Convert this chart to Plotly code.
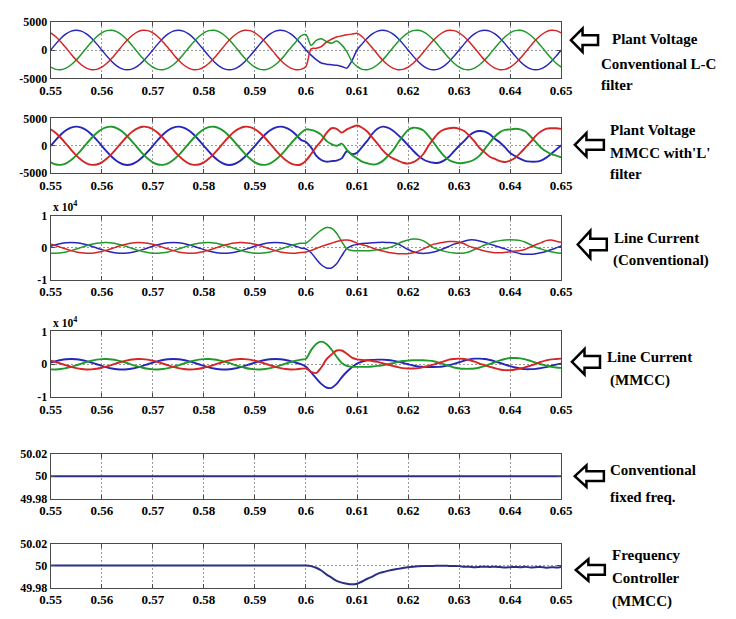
import plotly.graph_objects as go

# ---------------- data ----------------
TIME = [0.550, 0.551, 0.552, 0.553, 0.554, 0.555, 0.556, 0.557, 0.558, 0.559,
        0.560, 0.561, 0.562, 0.563, 0.564, 0.565, 0.566, 0.567, 0.568, 0.569,
        0.570, 0.571, 0.572, 0.573, 0.574, 0.575, 0.576, 0.577, 0.578, 0.579,
        0.580, 0.581, 0.582, 0.583, 0.584, 0.585, 0.586, 0.587, 0.588, 0.589,
        0.590, 0.591, 0.592, 0.593, 0.594, 0.595, 0.596, 0.597, 0.598, 0.599,
        0.600, 0.601, 0.602, 0.603, 0.604, 0.605, 0.606, 0.607, 0.608, 0.609,
        0.610, 0.611, 0.612, 0.613, 0.614, 0.615, 0.616, 0.617, 0.618, 0.619,
        0.620, 0.621, 0.622, 0.623, 0.624, 0.625, 0.626, 0.627, 0.628, 0.629,
        0.630, 0.631, 0.632, 0.633, 0.634, 0.635, 0.636, 0.637, 0.638, 0.639,
        0.640, 0.641, 0.642, 0.643, 0.644, 0.645, 0.646, 0.647, 0.648, 0.649,
        0.650]

# Plant voltage, conventional L-C filter
VOLT_CONV_B = [0, 1080, 2060, 2830, 3330, 3500, 3330, 2830, 2060, 1080,
               0, -1080, -2060, -2830, -3330, -3500, -3330, -2830, -2060, -1080,
               0, 1080, 2060, 2830, 3330, 3500, 3330, 2830, 2060, 1080,
               0, -1080, -2060, -2830, -3330, -3500, -3330, -2830, -2060, -1080,
               0, 1080, 2060, 2830, 3330, 3500, 3330, 2830, 2060, 1080,
               0, -900, -1700, -2300, -2500, -2600, -2700, -2900, -3200, -1900,
               0, 1080, 2060, 2830, 3330, 3500, 3330, 2830, 2060, 1080,
               0, -1080, -2060, -2830, -3330, -3500, -3330, -2830, -2060, -1080,
               0, 1080, 2060, 2830, 3330, 3500, 3330, 2830, 2060, 1080,
               0, -1080, -2060, -2830, -3330, -3500, -3330, -2830, -2060, -1080,
               0]
VOLT_CONV_G = [-3030, -3420, -3480, -3200, -2600, -1750, -730, 370, 1420, 2340,
               3030, 3420, 3480, 3200, 2600, 1750, 730, -370, -1420, -2340,
               -3030, -3420, -3480, -3200, -2600, -1750, -730, 370, 1420, 2340,
               3030, 3420, 3480, 3200, 2600, 1750, 730, -370, -1420, -2340,
               -3030, -3420, -3480, -3200, -2600, -1750, -730, 370, 1420, 2500,
               2700, 800, 1700, 2000, 1500, 1200, 1600, 900, -300, -2000,
               -2900, -3420, -3480, -3200, -2600, -1750, -730, 370, 1420, 2340,
               3030, 3420, 3480, 3200, 2600, 1750, 730, -370, -1420, -2340,
               -3030, -3420, -3480, -3200, -2600, -1750, -730, 370, 1420, 2340,
               3030, 3420, 3480, 3200, 2600, 1750, 730, -370, -1420, -2340,
               -3030]
VOLT_CONV_R = [3030, 2340, 1420, 370, -730, -1750, -2600, -3200, -3480, -3420,
               -3030, -2340, -1420, -370, 730, 1750, 2600, 3200, 3480, 3420,
               3030, 2340, 1420, 370, -730, -1750, -2600, -3200, -3480, -3420,
               -3030, -2340, -1420, -370, 730, 1750, 2600, 3200, 3480, 3420,
               3030, 2340, 1420, 370, -730, -1750, -2600, -3200, -3480, -3420,
               -2900, 200, 300, 600, 1400, 1900, 2300, 2500, 2700, 2800,
               2950, 2340, 1420, 370, -730, -1750, -2600, -3200, -3480, -3420,
               -3030, -2340, -1420, -370, 730, 1750, 2600, 3200, 3480, 3420,
               3030, 2340, 1420, 370, -730, -1750, -2600, -3200, -3480, -3420,
               -3030, -2340, -1420, -370, 730, 1750, 2600, 3200, 3480, 3420,
               3030]

# Plant voltage, MMCC with 'L' filter
VOLT_MMCC_B = [0, 1080, 2060, 2830, 3330, 3500, 3330, 2830, 2060, 1080,
               0, -1080, -2060, -2830, -3330, -3500, -3330, -2830, -2060, -1080,
               0, 1080, 2060, 2830, 3330, 3500, 3330, 2830, 2060, 1080,
               0, -1080, -2060, -2830, -3330, -3500, -3330, -2830, -2060, -1080,
               0, 1080, 2060, 2830, 3330, 3500, 3330, 2830, 2060, 1080,
               700, -300, -1800, -2600, -2900, -2800, -2700, -2300, -1000, -1500,
               -1300, -200, 900, 2200, 3100, 3500, 3300, 2800, 2000, 1100,
               100, -900, -1800, -2500, -2900, -3100, -3100, -2700, -2000, -1000,
               0, 900, 1900, 2500, 2700, 2600, 2100, 1300, 600, -300,
               -1300, -1900, -2400, -2800, -2900, -2900, -2700, -2200, -1500, -700,
               100]
VOLT_MMCC_G = [-3030, -3420, -3480, -3200, -2600, -1750, -730, 370, 1420, 2340,
               3030, 3420, 3480, 3200, 2600, 1750, 730, -370, -1420, -2340,
               -3030, -3420, -3480, -3200, -2600, -1750, -730, 370, 1420, 2340,
               3030, 3420, 3480, 3200, 2600, 1750, 730, -370, -1420, -2340,
               -3030, -3420, -3480, -3200, -2600, -1750, -730, 370, 1420, 2340,
               3000, 2900, 2600, 2000, 900, 300, 0, 400, -700, -1700,
               -2300, -2900, -3200, -3400, -3300, -2800, -1900, -900, 500, 1800,
               2900, 3300, 3200, 2800, 1800, 600, -700, -1800, -2600, -3000,
               -3200, -3100, -2900, -2500, -1800, -600, 600, 1700, 2500, 2900,
               3000, 3100, 3000, 2600, 1700, 700, -300, -1000, -1500, -1800,
               -2100]
VOLT_MMCC_R = [3030, 2340, 1420, 370, -730, -1750, -2600, -3200, -3480, -3420,
               -3030, -2340, -1420, -370, 730, 1750, 2600, 3200, 3480, 3420,
               3030, 2340, 1420, 370, -730, -1750, -2600, -3200, -3480, -3420,
               -3030, -2340, -1420, -370, 730, 1750, 2600, 3200, 3480, 3420,
               3030, 2340, 1420, 370, -730, -1750, -2600, -3200, -3480, -3420,
               -2700, -1500, -200, 900, 2300, 3200, 3100, 2400, 3000, 3400,
               3700, 3300, 2600, 1500, 400, -800, -1700, -2300, -2700, -3100,
               -3250, -3000, -2400, -1500, 0, 1300, 2400, 2950, 3200, 3300,
               3100, 2700, 1800, 800, -400, -1200, -2000, -2400, -2800, -2950,
               -2700, -2200, -1300, -300, 700, 1800, 2600, 3100, 3200, 3200,
               3100]

# Line current, conventional
CUR_CONV_B = [530, 1000, 1380, 1620, 1700, 1620, 1380, 1000, 530, 0,
              -530, -1000, -1380, -1620, -1700, -1620, -1380, -1000, -530, 0,
              530, 1000, 1380, 1620, 1700, 1620, 1380, 1000, 530, 0,
              -530, -1000, -1380, -1620, -1700, -1620, -1380, -1000, -530, 0,
              530, 1000, 1380, 1620, 1700, 1620, 1380, 1000, 530, 0,
              -300, -1500, -3500, -5300, -6300, -6300, -5000, -2500, -200, 700,
              1100, 1400, 1500, 1600, 1700, 1750, 1700, 1650, 1300, 400,
              -500, -1200, -1600, -1750, -1600, -1300, -800, -200, 500, 1200,
              1600, 2100, 2500, 2500, 2200, 1800, 1200, 700, 200, -300,
              -900, -1400, -1800, -2000, -2000, -1800, -1500, -1100, -600, 0,
              600]
CUR_CONV_G = [-1660, -1690, -1550, -1260, -850, -350, 180, 690, 1140, 1470,
              1660, 1690, 1550, 1260, 850, 350, -180, -690, -1140, -1470,
              -1660, -1690, -1550, -1260, -850, -350, 180, 690, 1140, 1470,
              1660, 1690, 1550, 1260, 850, 350, -180, -690, -1140, -1470,
              -1660, -1690, -1550, -1260, -850, -350, 180, 690, 1140, 1470,
              1540, 2800, 4300, 5600, 6400, 6200, 4600, 2000, -300, -800,
              -900, -900, -900, -800, -600, -300, 0, 500, 1300, 2000,
              2500, 2800, 2700, 2200, 1200, 0, -500, -1000, -1400, -1600,
              -1700, -1600, -1200, -500, 200, 900, 1500, 2000, 2300, 2500,
              2550, 2500, 2300, 1800, 1000, 200, -300, -800, -1200, -1500,
              -1700]
CUR_CONV_R = [1140, 690, 180, -350, -850, -1260, -1550, -1690, -1660, -1470,
              -1140, -690, -180, 350, 850, 1260, 1550, 1690, 1660, 1470,
              1140, 690, 180, -350, -850, -1260, -1550, -1690, -1660, -1470,
              -1140, -690, -180, 350, 850, 1260, 1550, 1690, 1660, 1470,
              1140, 690, 180, -350, -850, -1260, -1550, -1690, -1660, -1470,
              -1300, -800, -200, 500, 1000, 1500, 2000, 2400, 2500, 2200,
              1500, 1000, 600, 0, -500, -1000, -1350, -1600, -1800, -1850,
              -1800, -1500, -1000, -300, 500, 1200, 1500, 1800, 2000, 2050,
              1800, 1300, 500, 0, -500, -1000, -1300, -1500, -1550, -1400,
              -1200, -1000, -800, -400, 300, 1000, 1600, 2300, 2500, 2100,
              1750]

# Line current, MMCC
CUR_MMCC_B = [490, 940, 1290, 1520, 1600, 1520, 1290, 940, 490, 0,
              -490, -940, -1290, -1520, -1600, -1520, -1290, -940, -490, 0,
              490, 940, 1290, 1520, 1600, 1520, 1290, 940, 490, 0,
              -490, -940, -1290, -1520, -1600, -1520, -1290, -940, -490, 0,
              490, 940, 1290, 1520, 1600, 1520, 1290, 940, 490, 0,
              -800, -2500, -4300, -6000, -7100, -7200, -6000, -4000, -2300, -900,
              200, 800, 1200, 1300, 1400, 1400, 1300, 1100, 800, 400,
              0, -400, -700, -800, -850, -850, -800, -600, -300, 100,
              600, 1100, 1500, 1700, 1700, 1600, 1300, 900, 400, -100,
              -600, -1000, -1300, -1500, -1500, -1400, -1200, -900, -500, -100,
              200]
CUR_MMCC_G = [-1560, -1590, -1460, -1190, -800, -330, 170, 650, 1070, 1390,
              1560, 1590, 1460, 1190, 800, 330, -170, -650, -1070, -1390,
              -1560, -1590, -1460, -1190, -800, -330, 170, 650, 1070, 1390,
              1560, 1590, 1460, 1190, 800, 330, -170, -650, -1070, -1390,
              -1560, -1590, -1460, -1190, -800, -330, 170, 650, 1070, 1390,
              1700, 4300, 6200, 6900, 6200, 4500, 2300, 400, -500, -800,
              -800, -800, -800, -700, -500, -300, 0, 300, 700, 1000,
              1100, 1200, 1200, 1200, 1100, 900, 500, 0, -500, -1000,
              -1300, -1400, -1400, -1300, -1000, -600, 0, 600, 1200, 1600,
              1900, 1900, 1800, 1500, 1000, 500, 0, -400, -800, -1000,
              -1100]
CUR_MMCC_R = [1070, 650, 170, -330, -800, -1190, -1460, -1590, -1560, -1390,
              -1070, -650, -170, 330, 800, 1190, 1460, 1590, 1560, 1390,
              1070, 650, 170, -330, -800, -1190, -1460, -1590, -1560, -1390,
              -1070, -650, -170, 330, 800, 1190, 1460, 1590, 1560, 1390,
              1070, 650, 170, -330, -800, -1190, -1460, -1590, -1560, -1390,
              -1300, -2300, -2700, -1000, 1500, 3000, 4200, 4200, 3200, 2000,
              1500, 1300, 1200, 1000, 700, 300, -100, -500, -900, -1200,
              -1300, -1300, -1200, -900, -500, -100, 400, 900, 1400, 1600,
              1700, 1600, 1300, 800, 200, -300, -800, -1200, -1600, -1800,
              -1800, -1600, -1300, -900, -400, 100, 700, 1200, 1500, 1600,
              1700]

# Frequency
FIXED_TIME = [0.55, 0.65]
FIXED_FREQ = [50.0, 50.0]
FREQ_MMCC = [50.0, 50.0, 50.0, 50.0, 50.0, 50.0, 50.0, 50.0, 50.0, 50.0,
             50.0, 50.0, 50.0, 50.0, 50.0, 50.0, 50.0, 50.0, 50.0, 50.0,
             50.0, 50.0, 50.0, 50.0, 50.0, 50.0, 50.0, 50.0, 50.0, 50.0,
             50.0, 50.0, 50.0, 50.0, 50.0, 50.0, 50.0, 50.0, 50.0, 50.0,
             50.0, 50.0, 50.0, 50.0, 50.0, 50.0, 50.0, 50.0, 50.0, 50.0,
             50.0, 49.9995, 49.998, 49.9955, 49.992, 49.989, 49.986, 49.9845, 49.9835, 49.983,
             49.9835, 49.9855, 49.988, 49.990, 49.9925, 49.994, 49.9952, 49.9962, 49.997, 49.9978,
             49.9985, 49.999, 49.9993, 49.9995, 49.9996, 49.9997, 49.9998, 49.9998, 49.9997, 49.9996,
             49.9995, 49.999, 49.999, 49.9985, 49.9988, 49.999, 49.9988, 49.999, 49.9987, 49.9983,
             49.9985, 49.9988, 49.9985, 49.999, 49.9982, 49.9985, 49.9988, 49.998, 49.9985, 49.9983,
             49.9988]

X_TICKS = [0.55, 0.56, 0.57, 0.58, 0.59, 0.60, 0.61, 0.62, 0.63, 0.64, 0.65]
X_LABELS = ["0.55", "0.56", "0.57", "0.58", "0.59", "0.6", "0.61", "0.62", "0.63", "0.64", "0.65"]
V_TICKS, V_LABELS = [-5000, 0, 5000], ["-5000", "0", "5000"]
I_TICKS, I_LABELS = [-10000, 0, 10000], ["-1", "0", "1"]
F_TICKS, F_LABELS = [49.98, 50.0, 50.02], ["49.98", "50", "50.02"]

LABELS = [
    ["Plant Voltage", "Conventional L-C", "filter"],
    ["Plant Voltage", "MMCC with'L'", "filter"],
    ["Line Current", "(Conventional)"],
    ["Line Current", "(MMCC)"],
    ["Conventional", "fixed freq."],
    ["Frequency", "Controller", "(MMCC)"],
]

# ---------------- layout helpers ----------------
W, H = 736, 619
def PX(x):
    return x / W
def PY(y):
    return 1 - y / H

BLUE, GREEN, RED, NAVY = "#2626b8", "#1f9a2a", "#d42626", "#2a2f86"
SERIF = "Times New Roman, Liberation Serif, serif"

# panel geometry in pixels: (top, bottom)
GEOM = [(15, 73), (114, 170), (214, 279), (332, 399), (457, 503), (549, 594)]
YSPEC = [
    ([-5000, 5000], V_TICKS, V_LABELS),
    ([-5000, 5000], V_TICKS, V_LABELS),
    ([-10000, 10000], I_TICKS, I_LABELS),
    ([-10000, 10000], I_TICKS, I_LABELS),
    ([49.98, 50.02], F_TICKS, F_LABELS),
    ([49.98, 50.02], F_TICKS, F_LABELS),
]
WIDTHS = [1.5, 1.9, 1.5, 1.9, 2.0, 2.0]
SERIES = [
    [(TIME, VOLT_CONV_B, BLUE), (TIME, VOLT_CONV_G, GREEN), (TIME, VOLT_CONV_R, RED)],
    [(TIME, VOLT_MMCC_B, BLUE), (TIME, VOLT_MMCC_G, GREEN), (TIME, VOLT_MMCC_R, RED)],
    [(TIME, CUR_CONV_B, BLUE), (TIME, CUR_CONV_G, GREEN), (TIME, CUR_CONV_R, RED)],
    [(TIME, CUR_MMCC_B, BLUE), (TIME, CUR_MMCC_G, GREEN), (TIME, CUR_MMCC_R, RED)],
    [(FIXED_TIME, FIXED_FREQ, NAVY)],
    [(TIME, FREQ_MMCC, NAVY)],
]

fig = go.Figure()
layout = dict(
    width=W, height=H, margin=dict(l=0, r=0, t=0, b=0),
    paper_bgcolor="white", plot_bgcolor="white", showlegend=False,
)

for n in range(6):
    ax = "" if n == 0 else str(n + 1)
    for (xs, ys, col) in SERIES[n]:
        fig.add_trace(go.Scatter(
            x=xs, y=ys, mode="lines",
            line=dict(color=col, width=WIDTHS[n], shape="spline", smoothing=0.8),
            xaxis="x" + ax, yaxis="y" + ax, hoverinfo="skip"))
    top, bot = GEOM[n]
    yr, yt, yl = YSPEC[n]
    common = dict(
        showline=True, linecolor="#4a4a4a", linewidth=1, mirror="ticks",
        ticks="inside", ticklen=4, tickcolor="#4a4a4a",
        showgrid=True, gridcolor="#9a9a9a", griddash="2px,2px", gridwidth=1,
        zeroline=False, fixedrange=True,
    )
    layout["xaxis" + ax] = dict(
        domain=[PX(41), PX(568)], range=[0.55, 0.65], anchor="y" + ax,
        tickmode="array", tickvals=X_TICKS, ticktext=X_LABELS,
        tickfont=dict(family=SERIF, size=13, color="black", weight="bold"), **common)
    layout["yaxis" + ax] = dict(
        domain=[PY(bot), PY(top)], range=yr, anchor="x" + ax,
        tickmode="array", tickvals=yt, ticktext=yl,
        tickfont=dict(family=SERIF, size=12, color="black", weight="bold"), **common)

annotations = []
# x 10^4 exponent labels
for top in (214, 332):
    annotations.append(dict(
        x=PX(41), y=PY(top - 1), xref="paper", yref="paper", xanchor="left", yanchor="bottom",
        text="<b>x 10<sup>4</sup></b>", showarrow=False,
        font=dict(family=SERIF, size=11.5, color="black")))

# right-hand labels: (x px, y px) per line
LABEL_POS = [
    [(618, 33), (607, 58), (607, 80)],
    [(616, 126), (616, 149), (616, 171)],
    [(620, 236), (619, 259)],
    [(613, 358), (616, 382)],
    [(616, 474), (616, 501)],
    [(618, 561), (618, 584), (618, 608)],
]
for lines, poss in zip(LABELS, LABEL_POS):
    for txt, (x, y) in zip(lines, poss):
        annotations.append(dict(
            x=PX(x), y=PY(y), xref="paper", yref="paper", xanchor="left", yanchor="middle",
            text="<b>" + txt + "</b>", showarrow=False,
            font=dict(family=SERIF, size=15, color="black")))

# hollow left-pointing block arrows: (tip x, center y, head back x, tail x, head half h, shaft half h)
ARROWS = [(578, 34, 590, 606, 12, 5), (582, 141, 594, 612, 12, 5), (585, 243, 598, 615, 14, 6),
          (579, 363, 592, 608, 13, 6), (582, 480, 594, 612, 11, 5), (583, 576, 596, 613, 11, 5)]
shapes = []
for tx, cy_, hx, ex, hh, sh in ARROWS:
    pts = [(tx, cy_), (hx, cy_ - hh), (hx, cy_ - sh), (ex, cy_ - sh), (ex, cy_ + sh),
           (hx, cy_ + sh), (hx, cy_ + hh)]
    path = "M " + " L ".join(f"{PX(a):.5f},{PY(b):.5f}" for a, b in pts) + " Z"
    shapes.append(dict(type="path", path=path, xref="paper", yref="paper",
                       line=dict(color="black", width=2.5), fillcolor="white"))

layout["annotations"] = annotations
layout["shapes"] = shapes
fig.update_layout(**layout)
fig.write_html("out.html",
               post_script="document.body.style.margin='0';document.body.style.overflow='hidden';")
